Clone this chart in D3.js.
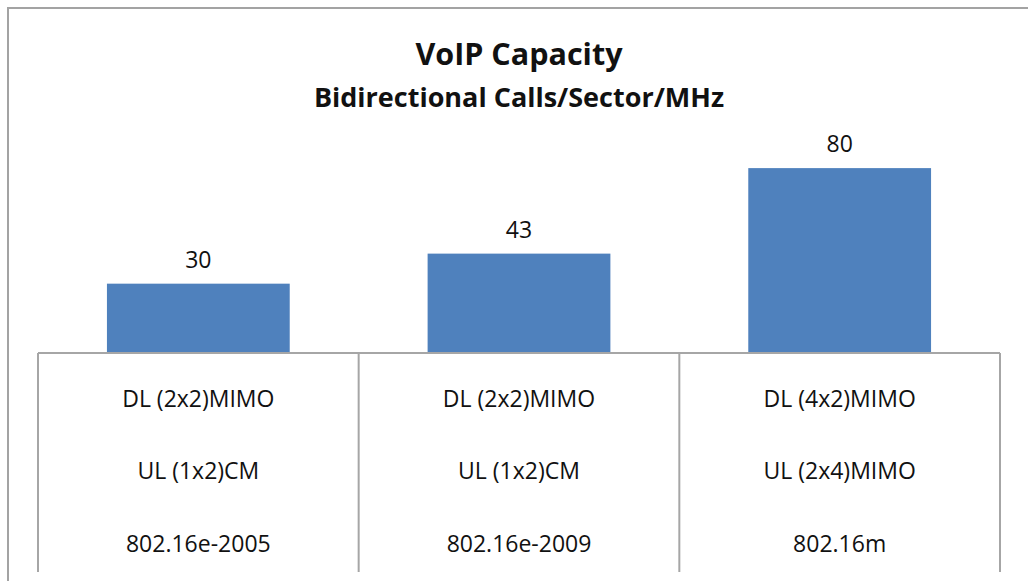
<!DOCTYPE html>
<html>
<head>
<meta charset="utf-8">
<script src="https://cdn.jsdelivr.net/npm/d3@7"></script>
<style>
  html, body { margin: 0; padding: 0; background: #fff; }
  svg { display: block; }
  text { font-family: "Open Sans", "Noto Sans", sans-serif; fill: #111; }
</style>
</head>
<body>
<svg id="chart" width="1028" height="581"></svg>
<script>
// ---- data ----
const categories = ["802.16e-2005", "802.16e-2009", "802.16m"];
const dlConfig = ["DL (2x2)MIMO", "DL (2x2)MIMO", "DL (4x2)MIMO"];
const ulConfig = ["UL (1x2)CM", "UL (1x2)CM", "UL (2x4)MIMO"];
const values = [30, 43, 80];
const titleText = "VoIP Capacity";
const subtitleText = "Bidirectional Calls/Sector/MHz";

// ---- layout ----
const W = 1028, H = 581;
const plotLeft = 38, plotRight = 1000;
const baseY = 353, topY = 145;
const tableBottom = 572;

const svg = d3.select("#chart");

// outer chart border (cropped on right/bottom)
svg.append("rect")
  .attr("x", 8).attr("y", 8)
  .attr("width", 1040).attr("height", 600)
  .attr("fill", "none")
  .attr("stroke", "#a3a3a3")
  .attr("stroke-width", 2);

const x = d3.scaleBand()
  .domain(categories)
  .range([plotLeft, plotRight])
  .paddingInner(0.43)
  .paddingOuter(0.215);

const y = d3.scaleLinear()
  .domain([0, 90])
  .range([baseY, topY]);

// bars
svg.append("g").selectAll("rect")
  .data(values)
  .join("rect")
  .attr("x", (d, i) => x(categories[i]))
  .attr("y", d => y(d))
  .attr("width", x.bandwidth())
  .attr("height", d => y(0) - y(d))
  .attr("fill", "#4f81bd");

// value labels
svg.append("g").selectAll("text")
  .data(values)
  .join("text")
  .attr("x", (d, i) => x(categories[i]) + x.bandwidth() / 2)
  .attr("y", d => y(d) - 16)
  .attr("text-anchor", "middle")
  .attr("font-size", 23)
  .text(d => d);

// category axis with table-like dividers
const stepW = x.step();
const edges = d3.range(categories.length + 1).map(i => plotLeft + i * stepW);
const grid = svg.append("g").attr("stroke", "#a6a6a6").attr("stroke-width", 2);
grid.append("line")
  .attr("x1", plotLeft).attr("x2", plotRight)
  .attr("y1", baseY).attr("y2", baseY);
grid.selectAll("line.div")
  .data(edges)
  .join("line")
  .attr("class", "div")
  .attr("x1", d => d).attr("x2", d => d)
  .attr("y1", baseY).attr("y2", tableBottom);

// multi-level category labels
const rows = [
  { labels: dlConfig, y: 406.5 },
  { labels: ulConfig, y: 478.5 },
  { labels: categories, y: 551.5 }
];
rows.forEach(r => {
  svg.append("g").selectAll("text")
    .data(r.labels)
    .join("text")
    .attr("x", (d, i) => x(categories[i]) + x.bandwidth() / 2)
    .attr("y", r.y)
    .attr("text-anchor", "middle")
    .attr("font-size", 23)
    .text(d => d);
});

// titles
const cx = (plotLeft + plotRight) / 2;
svg.append("text")
  .attr("x", cx).attr("y", 65)
  .attr("text-anchor", "middle")
  .attr("font-size", 30.5)
  .attr("font-weight", "bold")
  .text(titleText);
svg.append("text")
  .attr("x", cx).attr("y", 106.5)
  .attr("text-anchor", "middle")
  .attr("font-size", 27)
  .attr("font-weight", "bold")
  .text(subtitleText);
</script>
</body>
</html>
